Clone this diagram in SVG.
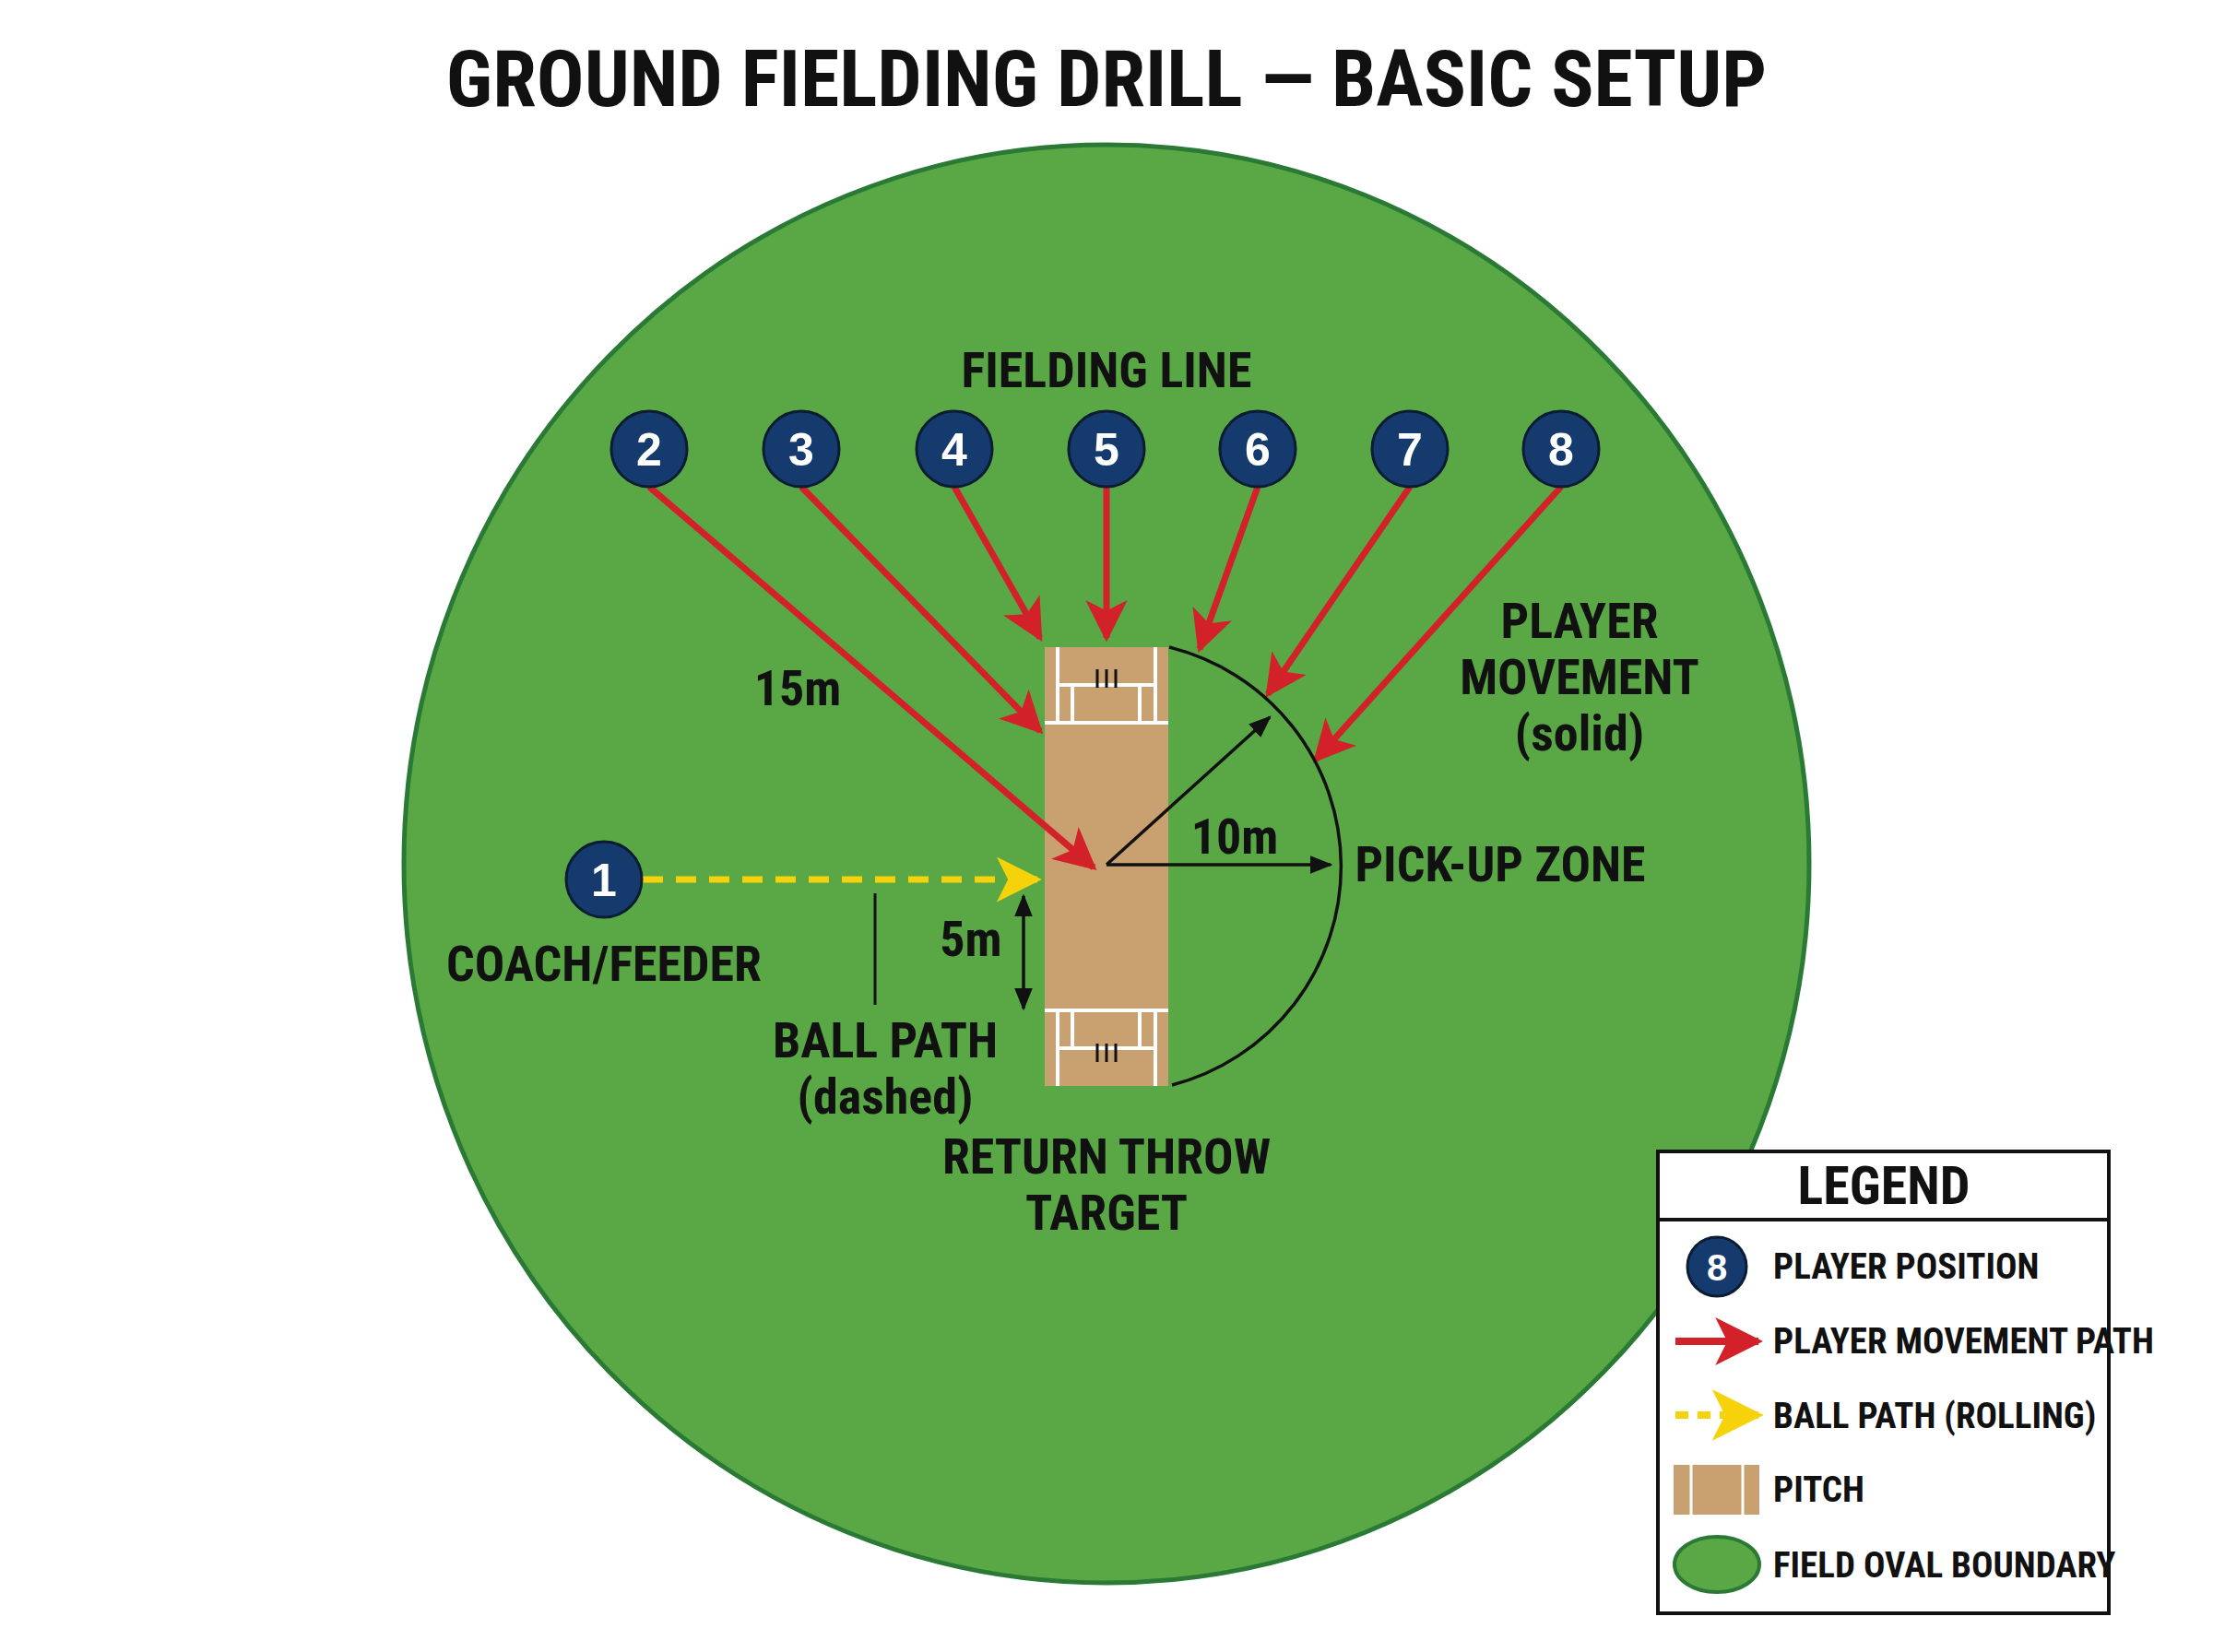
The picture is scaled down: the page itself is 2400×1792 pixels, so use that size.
<svg xmlns="http://www.w3.org/2000/svg" width="2400" height="1792" viewBox="0 0 2400 1792">
<defs>
<style>
text{font-family:"Liberation Sans Narrow","Roboto Condensed","Liberation Sans",sans-serif;font-weight:bold;fill:#111;text-anchor:middle}
.lbl{font-size:54px}
.lg{font-size:39px;text-anchor:start}
.num{font-family:"Liberation Sans",sans-serif;font-size:50px;fill:#fff}
.pl{fill:#143a6e;stroke:#0c1c33;stroke-width:3}
.red{stroke:#d3212a;stroke-width:7;fill:none;marker-end:url(#rh)}
.blk{stroke:#111;stroke-width:3.5;fill:none}
.wl{stroke:#fff;stroke-width:4;fill:none}
</style>
<marker id="rh" viewBox="0 0 10 10" refX="9" refY="5" markerWidth="6.5" markerHeight="6.5" orient="auto" markerUnits="strokeWidth"><path d="M0,0L10,5L0,10L2.5,5z" fill="#d3212a"/></marker>
<marker id="yh" viewBox="0 0 10 10" refX="9" refY="5" markerWidth="7" markerHeight="7" orient="auto" markerUnits="strokeWidth"><path d="M0,0L10,5L0,10L2.5,5z" fill="#f5d20a"/></marker>
<marker id="bh" viewBox="0 0 10 10" refX="9" refY="5" markerWidth="7" markerHeight="7" orient="auto-start-reverse" markerUnits="strokeWidth"><path d="M0,1L10,5L0,9z" fill="#111"/></marker>
</defs>
<rect width="2400" height="1792" fill="#fff"/>
<text x="1200" y="115" style="font-size:86px">GROUND FIELDING DRILL — BASIC SETUP</text>
<g id="field"><ellipse cx="1200" cy="937" rx="762" ry="780" fill="#5aa845" stroke="#2a7a35" stroke-width="5"/></g>
<g id="pitch">
<rect x="1133" y="702" width="134" height="476" fill="#c9a06f"/>
<path class="wl" d="M1133,784H1267M1147,702V784M1253,702V784M1147,743H1253M1163,743V784M1236,743V784"/>
<path class="wl" d="M1133,1096H1267M1147,1178V1096M1253,1178V1096M1147,1137H1253M1163,1137V1096M1236,1137V1096"/>
<path d="M1190,726v20M1200,726v20M1210,726v20M1190,1132v20M1200,1132v20M1210,1132v20" stroke="#111" stroke-width="3"/>
</g>
<g id="connectors">
<path class="red" d="M704,528L1186,941"/>
<path class="red" d="M869,528L1128,793"/>
<path class="red" d="M1035,528L1128,692"/>
<path class="red" d="M1200,528L1200,692"/>
<path class="red" d="M1364,528L1301,704"/>
<path class="red" d="M1529,528L1375,753"/>
<path class="red" d="M1693,528L1427,824"/>
<path d="M697,954H1110" stroke="#f5d20a" stroke-width="7" stroke-dasharray="22,14" fill="none"/>
<path d="M1095,954H1125" stroke="#f5d20a" stroke-width="7" fill="none" marker-end="url(#yh)"/>
<path class="blk" d="M1268,702A245,245 0 0 1 1271,1177"/>
<path class="blk" d="M1200,938H1443" marker-end="url(#bh)"/>
<path class="blk" d="M1200,938L1377,778" marker-end="url(#bh)"/>
<path class="blk" d="M1110,972V1094" marker-start="url(#bh)" marker-end="url(#bh)"/>
<path d="M949,969V1090" stroke="#111" stroke-width="3"/>
</g>
<g id="players">
<g id="p1"><circle class="pl" cx="655" cy="954" r="41"/><text class="num" x="655" y="972">1</text></g>
<g id="p2"><circle class="pl" cx="704" cy="487" r="41"/><text class="num" x="704" y="505">2</text></g>
<g id="p3"><circle class="pl" cx="869" cy="487" r="41"/><text class="num" x="869" y="505">3</text></g>
<g id="p4"><circle class="pl" cx="1035" cy="487" r="41"/><text class="num" x="1035" y="505">4</text></g>
<g id="p5"><circle class="pl" cx="1200" cy="487" r="41"/><text class="num" x="1200" y="505">5</text></g>
<g id="p6"><circle class="pl" cx="1364" cy="487" r="41"/><text class="num" x="1364" y="505">6</text></g>
<g id="p7"><circle class="pl" cx="1529" cy="487" r="41"/><text class="num" x="1529" y="505">7</text></g>
<g id="p8"><circle class="pl" cx="1693" cy="487" r="41"/><text class="num" x="1693" y="505">8</text></g>
</g>
<g id="labels">
<text class="lbl" x="1200" y="420">FIELDING LINE</text>
<text class="lbl" x="865" y="765">15m</text>
<text class="lbl" x="1713" y="692">PLAYER</text>
<text class="lbl" x="1713" y="753">MOVEMENT</text>
<text class="lbl" x="1713" y="814">(solid)</text>
<text class="lbl" x="1339" y="926">10m</text>
<text class="lbl" x="1627" y="956">PICK-UP ZONE</text>
<text class="lbl" x="655" y="1064">COACH/FEEDER</text>
<text class="lbl" x="1053" y="1037">5m</text>
<text class="lbl" x="960" y="1147">BALL PATH</text>
<text class="lbl" x="960" y="1208">(dashed)</text>
<text class="lbl" x="1200" y="1273">RETURN THROW</text>
<text class="lbl" x="1200" y="1334">TARGET</text>
</g>
<g id="legend">
<rect x="1798" y="1249" width="489" height="501" fill="#fff" stroke="#111" stroke-width="4"/>
<path d="M1798,1323H2287" stroke="#111" stroke-width="4"/>
<text x="2043" y="1306" style="font-size:58px">LEGEND</text>
<circle class="pl" cx="1862" cy="1374" r="32"/><text class="num" x="1862" y="1389" style="font-size:40px">8</text>
<text class="lg" x="1923" y="1387">PLAYER POSITION</text>
<path d="M1817,1455H1907" stroke="#d3212a" stroke-width="8" fill="none" marker-end="url(#rh)"/>
<text class="lg" x="1923" y="1468">PLAYER MOVEMENT PATH</text>
<path d="M1817,1535H1870" stroke="#f5d20a" stroke-width="8" stroke-dasharray="14,10" fill="none"/>
<path d="M1875,1535H1907" stroke="#f5d20a" stroke-width="8" fill="none" marker-end="url(#yh)"/>
<text class="lg" x="1923" y="1549">BALL PATH (ROLLING)</text>
<rect x="1815" y="1589" width="93" height="54" fill="#c9a06f"/>
<path d="M1834,1589V1643M1890,1589V1643" stroke="#fff" stroke-width="3"/>
<text class="lg" x="1923" y="1629">PITCH</text>
<ellipse cx="1862" cy="1697" rx="46" ry="30" fill="#5aa845" stroke="#2a7a35" stroke-width="4"/>
<text class="lg" x="1923" y="1711">FIELD OVAL BOUNDARY</text>
</g>
</svg>
